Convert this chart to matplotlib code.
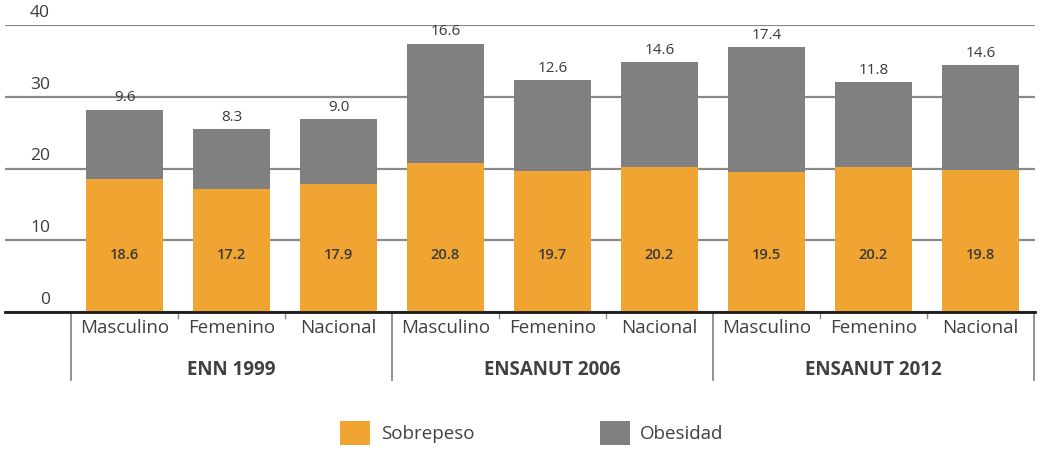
import matplotlib
matplotlib.use("Agg")
import matplotlib.pyplot as plt
from matplotlib.patches import Patch
import matplotlib.transforms as mtransforms
import numpy as np

plt.rcParams['font.family'] = ['Open Sans', 'DejaVu Sans']

groups = ["ENN 1999", "ENSANUT 2006", "ENSANUT 2012"]
categories = ["Masculino", "Femenino", "Nacional"] * 3
sobrepeso = [18.6, 17.2, 17.9, 20.8, 19.7, 20.2, 19.5, 20.2, 19.8]
obesidad = [9.6, 8.3, 9.0, 16.6, 12.6, 14.6, 17.4, 11.8, 14.6]
yticks = [0, 10, 20, 30, 40]

orange = "#F0A431"
gray = "#808080"
text_dark = "#3a3a3a"

W, H = 1040, 450
fig = plt.figure(figsize=(W / 100, H / 100), dpi=100)
ax_left, ax_right, ax_bottom, ax_top = 5, 1035, 312, 25
ax = fig.add_axes([ax_left / W, 1 - ax_bottom / H,
                   (ax_right - ax_left) / W, (ax_bottom - ax_top) / H])

x = np.arange(len(categories))
ax.set_xlim(-1.117, 8.51)
ax.set_ylim(0, 40)

# horizontal gridlines with labels sitting above them
for t in yticks:
    ax.axhline(t, color="#8a8a8a", lw=1.6, zorder=0)
ylab = mtransforms.blended_transform_factory(ax.transAxes, ax.transData)
for t in yticks:
    ax.annotate(str(t), xy=(45 / (ax_right - ax_left), t), xycoords=ylab,
                xytext=(0, 3), textcoords="offset points",
                ha="right", va="bottom", fontsize=12.5, color=text_dark)

bw = 0.72
ax.bar(x, sobrepeso, width=bw, color=orange, zorder=2)
ax.bar(x, obesidad, width=bw, bottom=sobrepeso, color=gray, zorder=2)

for xi, s, o in zip(x, sobrepeso, obesidad):
    ax.text(xi, 7.9, f"{s:.1f}", ha="center", va="center",
            fontsize=10.6, fontweight="semibold", color=text_dark, zorder=3)
    ax.annotate(f"{o:.1f}", xy=(xi, s + o), xytext=(0, 3),
                textcoords="offset points", ha="center", va="bottom",
                fontsize=11, color=text_dark)

# axis styling
for side in ["top", "right", "left"]:
    ax.spines[side].set_visible(False)
ax.spines["bottom"].set_color("#1a1a1a")
ax.spines["bottom"].set_linewidth(2)
ax.spines["bottom"].set_zorder(4)
ax.set_yticks([])
ax.set_xticks(x)
ax.set_xticklabels(categories, fontsize=13.5, color="#404040")
ax.tick_params(axis="x", length=0, pad=5)

# small ticks between categories within a group
sep = mtransforms.blended_transform_factory(ax.transData, ax.transAxes)
for b in [0.5, 1.5, 3.5, 4.5, 6.5, 7.5]:
    ax.plot([b, b], [0, -0.02], transform=sep, color="#8a8a8a",
            lw=1, clip_on=False)
# group separators and group labels
axh = ax_bottom - ax_top
for b in [-0.5, 2.5, 5.5, 8.5]:
    ax.plot([b, b], [0, -68 / axh], transform=sep, color="#8a8a8a",
            lw=1.3, clip_on=False)
for gi, g in enumerate(groups):
    ax.text(3 * gi + 1, -58 / axh, g, transform=sep, ha="center",
            va="center", fontsize=13.5, fontweight="bold", color="#404040")

handles = [Patch(facecolor=orange, label="Sobrepeso"),
           Patch(facecolor=gray, label="Obesidad")]
fig.legend(handles=handles, loc="center", bbox_to_anchor=(532 / W, 1 - 433 / H),
           ncol=2, frameon=False, fontsize=13.5, handlelength=1.6,
           handleheight=1.6, columnspacing=6.7, handletextpad=0.55,
           labelcolor="#404040")

fig.savefig("out.png", dpi=100)
